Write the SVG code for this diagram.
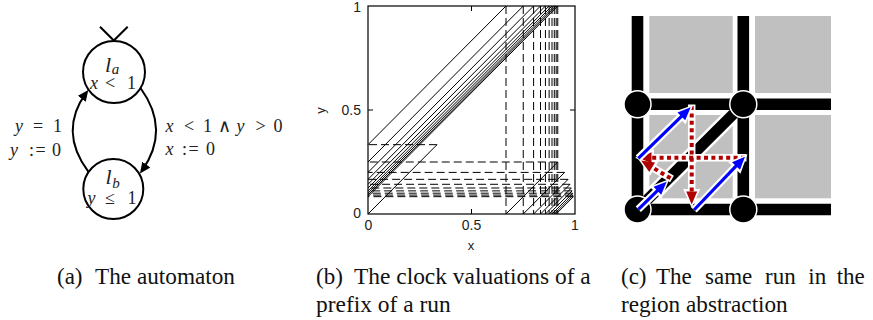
<svg xmlns="http://www.w3.org/2000/svg" width="873" height="320" viewBox="0 0 873 320">
<defs>
<style>
.st{fill:none;stroke:#000;stroke-width:2}
.m{font-size:18px;fill:#222}
.big{font-size:22px}
.cap{font-size:23px;fill:#111}
.ax{font-size:14px;fill:#222}
.lab{font-size:13px}
.pl{stroke:#000;stroke-width:1;fill:none}
.ds{stroke-dasharray:8,4}
.bar{stroke:#000;stroke-width:11.6;fill:none}
.grey{fill:#c0c0c0}
.dot{fill:#000;stroke:#fff;stroke-width:1.5}
.halo{stroke:#fff;stroke-width:7.5;fill:none;marker-end:url(#hw)}
.blue{stroke:#0000ff;stroke-width:3.2;fill:none;marker-end:url(#hb)}
.red{stroke:#b00000;stroke-width:4;stroke-dasharray:4,3.4;fill:none;marker-end:url(#hr)}
</style>
<marker id="ah" markerWidth="12" markerHeight="10" refX="8" refY="5" orient="auto" markerUnits="userSpaceOnUse"><path d="M0,0 L11,5 L0,10 z" fill="#000"/></marker>
<marker id="hb" markerWidth="1" markerHeight="1" refX="0" refY="0" orient="auto" markerUnits="userSpaceOnUse" overflow="visible"><path d="M-3,-5.5 L10,0 L-3,5.5 z" fill="#0000ff"/></marker>
<marker id="hr" markerWidth="1" markerHeight="1" refX="0" refY="0" orient="auto" markerUnits="userSpaceOnUse" overflow="visible"><path d="M-3,-5.5 L10,0 L-3,5.5 z" fill="#b00000"/></marker>
<marker id="hw" markerWidth="1" markerHeight="1" refX="0" refY="0" orient="auto" markerUnits="userSpaceOnUse" overflow="visible"><path d="M-5.5,-8.5 L13.5,0 L-5.5,8.5 z" fill="#fff"/></marker>
</defs>
<rect width="873" height="320" fill="#fff"/>

<!-- Panel (a): automaton -->
<g id="connectors">
  <polyline class="st" points="100,26.7 113.8,40.5 127.7,26.7"/>
  <path class="st" d="M140.5,88 Q171,130 141.7,171.1" marker-end="url(#ah)"/>
  <path class="st" d="M88.3,171.7 Q58,131 86.5,92.4" marker-end="url(#ah)"/>
</g>
<g font-family="'Liberation Serif', serif">
<g id="node-la">
  <circle class="st" cx="114" cy="72" r="31"/>
  <text class="m big" font-family="'Liberation Serif', serif" font-style="italic" x="105" y="71.5">l<tspan font-size="15" dx="0.5" dy="2.5">a</tspan></text>
  <text class="m" font-family="'Liberation Serif', serif"><tspan font-style="italic" x="90" y="89">x</tspan><tspan x="105" y="89">&lt;</tspan><tspan x="127" y="89">1</tspan></text>
</g>
<g id="node-lb">
  <circle class="st" cx="113.3" cy="189" r="30"/>
  <text class="m big" font-family="'Liberation Serif', serif" font-style="italic" x="105.5" y="184.3">l<tspan font-size="15" dx="0.5" dy="4">b</tspan></text>
  <text class="m" font-family="'Liberation Serif', serif"><tspan font-style="italic" x="87.5" y="204">y</tspan><tspan x="105" y="204">≤</tspan><tspan x="127.5" y="204">1</tspan></text>
</g>
<g id="labels-a">
  <text class="m" font-family="'Liberation Serif', serif"><tspan font-style="italic" x="15" y="131.5">y</tspan><tspan x="33" y="131.5">=</tspan><tspan x="53" y="131.5">1</tspan></text>
  <text class="m" font-family="'Liberation Serif', serif"><tspan font-style="italic" x="10" y="156">y</tspan><tspan x="29" y="156">:</tspan><tspan x="35.5" y="156">=</tspan><tspan x="52" y="156">0</tspan></text>
  <text class="m" font-family="'Liberation Serif', serif"><tspan font-style="italic" x="165.5" y="131.5">x</tspan><tspan x="184" y="131.5">&lt;</tspan><tspan x="203" y="131.5">1</tspan><tspan x="218" y="131.5">∧</tspan><tspan font-style="italic" x="236.5" y="131.5">y</tspan><tspan x="255.5" y="131.5">&gt;</tspan><tspan x="273.5" y="131.5">0</tspan></text>
  <text class="m" font-family="'Liberation Serif', serif"><tspan font-style="italic" x="165.5" y="154.5">x</tspan><tspan x="182" y="154.5">:</tspan><tspan x="188.5" y="154.5">=</tspan><tspan x="206" y="154.5">0</tspan></text>
</g>
</g>

<!-- Panel (b): clock valuations plot -->
<g id="plot">
  <g class="pl">
    <line x1="368" y1="214" x2="437" y2="144.67"/>
    <line x1="368" y1="144.67" x2="506" y2="6"/>
    <line x1="368" y1="162" x2="523.25" y2="6"/>
    <line x1="368" y1="172.4" x2="533.6" y2="6"/>
    <line x1="368" y1="179.33" x2="540.5" y2="6"/>
    <line x1="368" y1="184.29" x2="545.43" y2="6"/>
    <line x1="368" y1="188" x2="549.13" y2="6"/>
    <line x1="368" y1="190.89" x2="552" y2="6"/>
    <line x1="368" y1="193.2" x2="554.3" y2="6"/>
    <line x1="368" y1="195.09" x2="556.18" y2="6"/>
    <line x1="368" y1="196.67" x2="557.75" y2="6"/>
    <line x1="506" y1="214" x2="557.75" y2="162"/>
    <line x1="523.25" y1="214" x2="564.65" y2="172.4"/>
    <line x1="533.6" y1="214" x2="568.1" y2="179.33"/>
    <line x1="540.5" y1="214" x2="570.07" y2="184.29"/>
    <line x1="545.43" y1="214" x2="571.3" y2="188"/>
    <line x1="549.13" y1="214" x2="572.13" y2="190.89"/>
    <line x1="552" y1="214" x2="572.7" y2="193.2"/>
    <line x1="554.3" y1="214" x2="573.12" y2="195.09"/>
    <line x1="556.18" y1="214" x2="573.43" y2="196.67"/>
  </g>
  <g class="pl ds">
    <line x1="437" y1="144.67" x2="368" y2="144.67"/>
    <line x1="557.75" y1="162" x2="368" y2="162"/>
    <line x1="564.65" y1="172.4" x2="368" y2="172.4"/>
    <line x1="568.1" y1="179.33" x2="368" y2="179.33"/>
    <line x1="570.07" y1="184.29" x2="368" y2="184.29"/>
    <line x1="571.3" y1="188" x2="368" y2="188"/>
    <line x1="572.13" y1="190.89" x2="368" y2="190.89"/>
    <line x1="572.7" y1="193.2" x2="368" y2="193.2"/>
    <line x1="573.12" y1="195.09" x2="368" y2="195.09"/>
    <line x1="573.43" y1="196.67" x2="368" y2="196.67"/>
    <line x1="506" y1="6" x2="506" y2="214"/>
    <line x1="523.25" y1="6" x2="523.25" y2="214"/>
    <line x1="533.6" y1="6" x2="533.6" y2="214"/>
    <line x1="540.5" y1="6" x2="540.5" y2="214"/>
    <line x1="545.43" y1="6" x2="545.43" y2="214"/>
    <line x1="549.13" y1="6" x2="549.13" y2="214"/>
    <line x1="552" y1="6" x2="552" y2="214"/>
    <line x1="554.3" y1="6" x2="554.3" y2="214"/>
    <line x1="556.18" y1="6" x2="556.18" y2="214"/>
    <line x1="557.75" y1="6" x2="557.75" y2="214"/>
  </g>
  <rect x="368" y="6" width="207" height="208" fill="none" stroke="#000" stroke-width="1.2"/>
  <g class="pl">
    <line x1="471.5" y1="214" x2="471.5" y2="209"/>
    <line x1="471.5" y1="6" x2="471.5" y2="11"/>
    <line x1="368" y1="110" x2="373" y2="110"/>
    <line x1="575" y1="110" x2="570" y2="110"/>
  </g>
  <g font-family="'Liberation Sans', Arial, sans-serif">
  <text class="ax" font-family="'Liberation Sans', sans-serif" x="361" y="12" text-anchor="end">1</text>
  <text class="ax" font-family="'Liberation Sans', sans-serif" x="361" y="115" text-anchor="end">0.5</text>
  <text class="ax" font-family="'Liberation Sans', sans-serif" x="361" y="218" text-anchor="end">0</text>
  <text class="ax" font-family="'Liberation Sans', sans-serif" x="368.5" y="230" text-anchor="middle">0</text>
  <text class="ax" font-family="'Liberation Sans', sans-serif" x="471.5" y="230" text-anchor="middle">0.5</text>
  <text class="ax" font-family="'Liberation Sans', sans-serif" x="575" y="230" text-anchor="middle">1</text>
  <text class="ax lab" font-family="'Liberation Sans', sans-serif" x="471" y="250" text-anchor="middle">x</text>
  <text class="ax lab" font-family="'Liberation Sans', sans-serif" transform="translate(325,110.5) rotate(-90)" text-anchor="middle">y</text>
  </g>
</g>

<!-- Panel (c): region abstraction -->
<g id="regions">
  <rect class="grey" x="649.3" y="16" width="83.4" height="77"/>
  <rect class="grey" x="755" y="16" width="76" height="77"/>
  <rect class="grey" x="649.3" y="115" width="83.4" height="83.3"/>
  <rect class="grey" x="755" y="115" width="76" height="83.3"/>
  <line x1="637.5" y1="209.5" x2="743.3" y2="104.2" stroke="#fff" stroke-width="16"/>
  <line x1="637.5" y1="209.5" x2="743.3" y2="104.2" stroke="#000" stroke-width="11"/>
  <line class="bar" x1="637.5" y1="16" x2="637.5" y2="215"/>
  <line class="bar" x1="743.3" y1="16" x2="743.3" y2="215"/>
  <line class="bar" x1="632" y1="104.2" x2="831" y2="104.2"/>
  <line class="bar" x1="632" y1="209.5" x2="831" y2="209.5"/>
  <circle class="dot" cx="637.5" cy="104.2" r="13.5"/>
  <circle class="dot" cx="743.3" cy="104.2" r="13.5"/>
  <circle class="dot" cx="637.5" cy="209.5" r="13.5"/>
  <circle class="dot" cx="743.3" cy="209.5" r="13.5"/>
</g>
<g id="run-arrows">
  <path class="halo" d="M691.7,104.5 L691.7,194.5"/>
  <path class="halo" d="M746.5,157.7 L648.5,157.7"/>
  <path class="halo" d="M672,179 L649.6,165.7"/>
  <path class="red" d="M691.7,106 L691.7,194.5"/>
  <path class="red" d="M745,157.7 L648.5,157.7"/>
  <path class="red" d="M670.5,178.3 L649.6,165.7"/>
  <path class="halo" d="M638.3,209.3 L659.5,188.7"/>
  <path class="halo" d="M638.3,158.3 L683.5,114.3"/>
  <path class="halo" d="M694,210 L738.1,163.9"/>
  <path class="blue" d="M638.3,209.3 L659.5,188.7"/>
  <path class="blue" d="M638.3,158.3 L683.5,114.3"/>
  <path class="blue" d="M694,210 L738.1,163.9"/>
</g>

<!-- Captions -->
<g id="captions" font-family="'Liberation Serif', serif">
  <text class="cap" font-family="'Liberation Serif', serif" x="57" y="284">(a)</text>
  <text class="cap" font-family="'Liberation Serif', serif" x="95" y="284" textLength="140" lengthAdjust="spacingAndGlyphs">The automaton</text>
  <text class="cap" font-family="'Liberation Serif', serif" x="316" y="284">(b)</text>
  <text class="cap" font-family="'Liberation Serif', serif" x="354" y="284" textLength="236.7" lengthAdjust="spacingAndGlyphs">The clock valuations of a</text>
  <text class="cap" font-family="'Liberation Serif', serif" x="316" y="312" textLength="134.7" lengthAdjust="spacingAndGlyphs">prefix of a run</text>
  <text class="cap" font-family="'Liberation Serif', serif" y="284"><tspan x="621">(c)</tspan><tspan x="656">The</tspan><tspan x="705">same</tspan><tspan x="765">run</tspan><tspan x="808.3">in</tspan><tspan x="836.7">the</tspan></text>
  <text class="cap" font-family="'Liberation Serif', serif" x="621" y="312" textLength="166.7" lengthAdjust="spacingAndGlyphs">region abstraction</text>
</g>
</svg>
